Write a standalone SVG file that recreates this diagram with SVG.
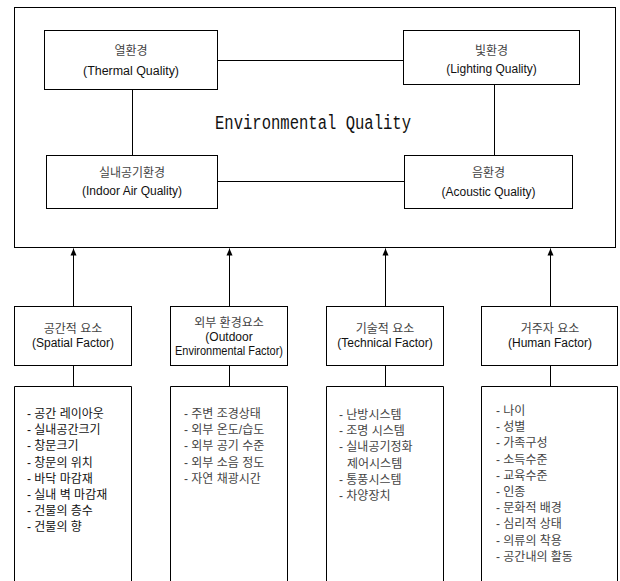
<svg xmlns="http://www.w3.org/2000/svg" width="620" height="581" viewBox="0 0 620 581">
<style>
  .box{fill:#fff;stroke:#000;stroke-width:1}
  .ln{fill:none;stroke:#000;stroke-width:1}
  text{font-family:"Liberation Sans","Noto Sans CJK KR",sans-serif;font-size:12px;fill:#111}
  .c{text-anchor:middle}
  .ko{fill:#444}
  .title{font-family:"Liberation Mono","DejaVu Sans Mono",monospace;font-size:20px;fill:#111}
</style>
<defs>
  <marker id="ah" markerWidth="8" markerHeight="8" refX="7" refY="4" orient="auto" markerUnits="userSpaceOnUse">
    <path d="M0,1 L7,4 L0,7 Z" fill="#000"/>
  </marker>
</defs>
<rect width="620" height="581" fill="#fff"/>
<g id="environmental-quality">
  <rect class="box" x="14.5" y="7.5" width="601" height="240"/>
  <text class="title" x="215" y="128.5" textLength="196" lengthAdjust="spacingAndGlyphs">Environmental Quality</text>
</g>
<g id="connectors">
  <path class="ln" d="M217.5,60.5 H403.5"/>
  <path class="ln" d="M217.5,181.5 H404.5"/>
  <path class="ln" d="M132.5,89.5 V155.5"/>
  <path class="ln" d="M494.5,84.5 V155.5"/>
  <path class="ln" d="M73.5,306.5 V248.5" marker-end="url(#ah)"/>
  <path class="ln" d="M229.5,306.5 V248.5" marker-end="url(#ah)"/>
  <path class="ln" d="M385.5,306.5 V248.5" marker-end="url(#ah)"/>
  <path class="ln" d="M550.5,306.5 V248.5" marker-end="url(#ah)"/>
  <path class="ln" d="M73.5,365.5 V386.5"/>
  <path class="ln" d="M229.5,365.5 V386.5"/>
  <path class="ln" d="M385.5,365.5 V386.5"/>
  <path class="ln" d="M550.5,365.5 V386.5"/>
</g>
<g id="thermal">
  <rect class="box" x="44.5" y="30.5" width="173" height="59"/>
  <text class="c ko" x="131" y="54.5">열환경</text>
  <text class="c" x="131" y="74.5" textLength="96" lengthAdjust="spacingAndGlyphs">(Thermal Quality)</text>
</g>
<g id="lighting">
  <rect class="box" x="403.5" y="30.5" width="176" height="54"/>
  <text class="c ko" x="491.5" y="54.5">빛환경</text>
  <text class="c" x="491.5" y="73">(Lighting Quality)</text>
</g>
<g id="indoor-air">
  <rect class="box" x="46.5" y="155.5" width="171" height="53"/>
  <text class="c ko" x="132" y="177">실내공기환경</text>
  <text class="c" x="132" y="195">(Indoor Air Quality)</text>
</g>
<g id="acoustic">
  <rect class="box" x="404.5" y="155.5" width="168" height="53"/>
  <text class="c ko" x="488.5" y="177">음환경</text>
  <text class="c" x="488.5" y="195.5">(Acoustic Quality)</text>
</g>
<g id="spatial-factor">
  <rect class="box" x="14.5" y="306.5" width="117" height="59"/>
  <text class="c ko" x="73" y="333">공간적 요소</text>
  <text class="c" x="73" y="347">(Spatial Factor)</text>
</g>
<g id="outdoor-factor">
  <rect class="box" x="170.5" y="306.5" width="117" height="59"/>
  <text class="c ko" x="229" y="327">외부 환경요소</text>
  <text class="c" x="229" y="340.5">(Outdoor</text>
  <text class="c" x="229" y="354.5" textLength="108" lengthAdjust="spacingAndGlyphs">Environmental Factor)</text>
</g>
<g id="technical-factor">
  <rect class="box" x="326.5" y="306.5" width="117" height="59"/>
  <text class="c ko" x="385" y="333">기술적 요소</text>
  <text class="c" x="385" y="347">(Technical Factor)</text>
</g>
<g id="human-factor">
  <rect class="box" x="481.5" y="306.5" width="136" height="59"/>
  <text class="c ko" x="550" y="333">거주자 요소</text>
  <text class="c" x="550" y="347">(Human Factor)</text>
</g>
<g id="spatial-list">
  <path class="box" d="M14.5,590 V386.5 H131.5 V590"/>
  <g class="ko">
  <text x="27" y="418">- 공간 레이아웃</text>
  <text x="27" y="434.2">- 실내공간크기</text>
  <text x="27" y="450.4">- 창문크기</text>
  <text x="27" y="466.6">- 창문의 위치</text>
  <text x="27" y="482.8">- 바닥 마감재</text>
  <text x="27" y="499">- 실내 벽 마감재</text>
  <text x="27" y="515.2">- 건물의 층수</text>
  <text x="27" y="531.4">- 건물의 향</text>
  </g>
</g>
<g id="outdoor-list">
  <path class="box" d="M170.5,590 V386.5 H287.5 V590"/>
  <text class="ko" x="184" y="418">- 주변 조경상태</text>
  <text class="ko" x="184" y="434.2">- 외부 온도/습도</text>
  <text class="ko" x="184" y="450.4">- 외부 공기 수준</text>
  <text class="ko" x="184" y="466.6">- 외부 소음 정도</text>
  <text class="ko" x="184" y="482.8">- 자연 채광시간</text>
</g>
<g id="technical-list">
  <path class="box" d="M326.5,590 V386.5 H443.5 V590"/>
  <text class="ko" x="339" y="419">- 난방시스템</text>
  <text class="ko" x="339" y="435.2">- 조명 시스템</text>
  <text class="ko" x="339" y="451.4">- 실내공기정화</text>
  <text class="ko" x="347" y="467.6">제어시스템</text>
  <text class="ko" x="339" y="483.8">- 통풍시스템</text>
  <text class="ko" x="339" y="500">- 차양장치</text>
</g>
<g id="human-list">
  <path class="box" d="M481.5,590 V386.5 H617.5 V590"/>
  <text class="ko" x="496" y="415">- 나이</text>
  <text class="ko" x="496" y="431.2">- 성별</text>
  <text class="ko" x="496" y="447.4">- 가족구성</text>
  <text class="ko" x="496" y="463.6">- 소득수준</text>
  <text class="ko" x="496" y="479.8">- 교육수준</text>
  <text class="ko" x="496" y="496">- 인종</text>
  <text class="ko" x="496" y="512.2">- 문화적 배경</text>
  <text class="ko" x="496" y="528.4">- 심리적 상태</text>
  <text class="ko" x="496" y="544.6">- 의류의 착용</text>
  <text class="ko" x="496" y="560.8">- 공간내의 활동</text>
</g>
</svg>
